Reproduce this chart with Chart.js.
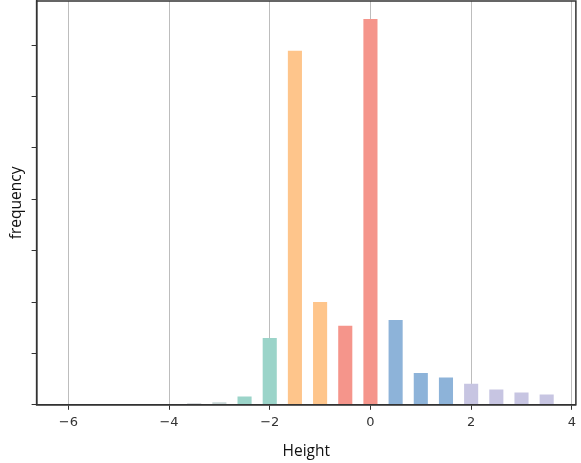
<!DOCTYPE html>
<html>
<head>
<meta charset="utf-8">
<script src="https://cdn.jsdelivr.net/npm/chart.js@4/dist/chart.umd.min.js"></script>
<style>
  html, body { margin: 0; padding: 0; background: #fff; }
  #wrap { width: 581px; height: 463px; }
</style>
</head>
<body>
<div id="wrap"><canvas id="myChart" width="581" height="463"></canvas></div>
<script>
// bin centres and frequencies
const heights = [-3.5, -3, -2.5, -2, -1.5, -1, -0.5, 0, 0.5, 1, 1.5, 2, 2.5, 3, 3.5];
const frequency = [0.03, 0.05, 0.16, 1.3, 6.89, 2.0, 1.54, 7.51, 1.65, 0.62, 0.53, 0.41, 0.3, 0.24, 0.2];
const xTicks = [-6, -4, -2, 0, 2, 4];
const yTicks = [0, 1, 2, 3, 4, 5, 6, 7];

const teal = '#9bd4c9', orange = '#fec58b', red = '#f5958b', blue = '#8db3d9', lilac = '#c7c5e2';
const barColors = ['#cfd3d6', '#c9d6d6', teal, teal, orange, orange, red, red,
  blue, blue, blue, lilac, lilac, lilac, lilac];

const frame = {
  id: 'frame',
  afterDraw(chart) {
    const { ctx, chartArea: a } = chart;
    ctx.save();
    ctx.strokeStyle = '#333';
    ctx.lineWidth = 1.5;
    ctx.strokeRect(a.left, a.top, a.right - a.left, a.bottom - a.top);
    ctx.restore();
  }
};

new Chart(document.getElementById('myChart').getContext('2d'), {
  type: 'bar',
  data: {
    datasets: [{
      data: heights.map((h, i) => ({ x: h, y: frequency[i] })),
      backgroundColor: barColors,
      borderWidth: 0,
      barPercentage: 0.56,
      categoryPercentage: 1
    }]
  },
  options: {
    responsive: false,
    animation: false,
    events: [],
    layout: { padding: { left: 7, right: 1, top: 1, bottom: 2 } },
    plugins: { legend: { display: false }, tooltip: { enabled: false } },
    scales: {
      x: {
        type: 'linear',
        min: -6.63,
        max: 4.08,
        offset: false,
        afterBuildTicks: axis => { axis.ticks = xTicks.map(v => ({ value: v })); },
        ticks: {
          color: '#333',
          font: { family: 'DejaVu Sans', size: 13 },
          padding: 5,
          callback: v => String(v).replace('-', '\u2212')
        },
        grid: { offset: false, color: '#bdbdbd', lineWidth: 1, tickColor: '#333', tickLength: 5 },
        border: { color: '#333', width: 1.5 },
        title: {
          display: true,
          text: 'Height',
          color: '#111',
          font: { family: 'Open Sans', size: 15.5 },
          padding: { top: 7, bottom: 0 }
        }
      },
      y: {
        min: 0,
        max: 7.86,
        afterBuildTicks: axis => { axis.ticks = yTicks.map(v => ({ value: v })); },
        ticks: { display: false },
        grid: { drawOnChartArea: false, tickColor: '#333', tickLength: 5 },
        border: { color: '#333', width: 1.5 },
        title: {
          display: true,
          text: 'frequency',
          color: '#111',
          font: { family: 'Open Sans', size: 15.5 },
          padding: { top: 0, bottom: 6 }
        }
      }
    }
  },
  plugins: [frame]
});
</script>
</body>
</html>
